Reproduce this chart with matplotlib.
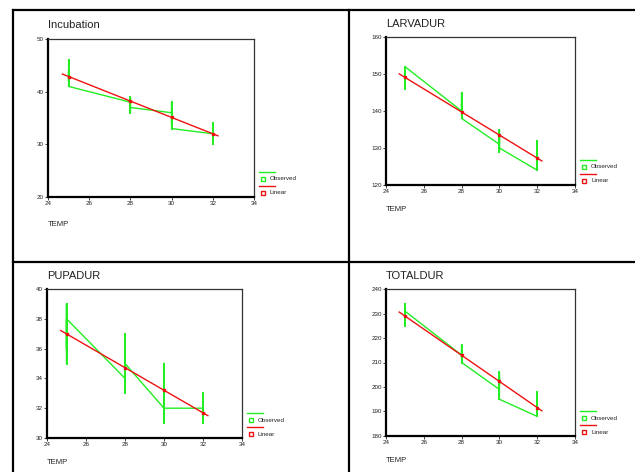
import numpy as np
import matplotlib
matplotlib.use("Agg")
import matplotlib.pyplot as plt
from matplotlib.lines import Line2D

plt.rcParams['font.family'] = ['Liberation Sans', 'DejaVu Sans']

# observed data, in file order (5 replicates per temperature)
temp = [25]*5 + [28]*5 + [30]*5 + [32]*5
incubation = [46, 42, 44, 43, 41,
              38, 36, 39, 38, 37,
              36, 38, 34, 35, 33,
              32, 34, 30, 33, 32]
larvadur = [146, 150, 147, 149, 152,
            140, 145, 141, 142, 138,
            131, 135, 129, 133, 130,
            124, 132, 126, 130, 128]
pupadur = [35, 39, 37, 36, 38,
           34, 37, 33, 35, 35,
           32, 35, 31, 35, 32,
           32, 33, 31, 32, 31]
totaldur = [225, 234, 227, 229, 231,
            213, 217, 212, 214, 210,
            199, 206, 201, 204, 195,
            188, 198, 190, 194, 192]

fit_range = [24.7, 32.25]
x_ticks = [24, 26, 28, 30, 32, 34]

panels = [
    ("Incubation", incubation, (20, 50), [20, 30, 40, 50]),
    ("LARVADUR", larvadur, (120, 160), [120, 130, 140, 150, 160]),
    ("PUPADUR", pupadur, (30, 40), [30, 32, 34, 36, 38, 40]),
    ("TOTALDUR", totaldur, (180, 240), [180, 190, 200, 210, 220, 230, 240]),
]

# axes boxes in pixels: left, top, right, bottom
boxes = [(48, 39, 254, 197), (386, 37, 575, 185), (47, 289, 242, 438), (386, 289, 575, 436)]
title_y = [25, 24, 276, 276]
temp_y = [224, 210, 463, 460]

W, H = 635, 472
GREEN = '#22ee22'
RED = '#ee1111'

fig = plt.figure(figsize=(W/100, H/100), dpi=100)

for i, (name, yv, ylim, yt) in enumerate(panels):
    l, t, r, b = boxes[i]
    ax = fig.add_axes([l/W, 1-b/H, (r-l)/W, (b-t)/H])
    x = np.array(temp, dtype=float)
    y = np.array(yv, dtype=float)

    # observed, connected in order
    ax.plot(x, y, color=GREEN, lw=1.0, zorder=2)
    for tv in sorted(set(temp)):
        vals = y[x == tv]
        ax.plot([tv, tv], [vals.min(), vals.max()], color=GREEN, lw=1.4, zorder=2)

    # linear fit
    k, c = np.polyfit(x, y, 1)
    fx = np.array(fit_range)
    ax.plot(fx, k*fx + c, color=RED, lw=1.0, zorder=3)
    ux = np.array(sorted(set(temp)), dtype=float)
    ax.plot(ux, k*ux + c, 's', color=RED, ms=2, zorder=4)

    ax.set_xlim(24, 34)
    ax.set_ylim(*ylim)
    ax.set_xticks(x_ticks)
    ax.set_yticks(yt)
    ax.tick_params(labelsize=4.5, length=2, width=0.6, pad=1, colors='#222222')
    for s in ['left', 'bottom']:
        ax.spines[s].set_linewidth(1.6)
    for s in ['top', 'right']:
        ax.spines[s].set_linewidth(0.9)
        ax.spines[s].set_color('#333333')

    fig.text(l/W, 1-title_y[i]/H, name, fontsize=8, va='center', ha='left', color='#222222')
    fig.text(l/W, 1-temp_y[i]/H, "TEMP", fontsize=5.5, va='center', ha='left', color='#222222')

    # legend drawn SPSS style
    def fx_(px):
        return (r + px - l) / (r - l)

    def fy_(px):
        return px / (b - t)

    ax.plot([fx_(5), fx_(21)], [fy_(25), fy_(25)], color=GREEN, lw=1.0,
            transform=ax.transAxes, clip_on=False)
    ax.plot([fx_(9)], [fy_(18)], 's', mfc='none', mec=GREEN, ms=2.6, mew=1.0,
            transform=ax.transAxes, clip_on=False)
    ax.text(fx_(16), fy_(18), "Observed", fontsize=4.5, va='center', ha='left',
            transform=ax.transAxes, color='#222222')
    ax.plot([fx_(5), fx_(21)], [fy_(11), fy_(11)], color=RED, lw=1.0,
            transform=ax.transAxes, clip_on=False)
    ax.plot([fx_(9)], [fy_(4)], 's', mfc='none', mec=RED, ms=2.6, mew=1.0,
            transform=ax.transAxes, clip_on=False)
    ax.text(fx_(16), fy_(4), "Linear", fontsize=4.5, va='center', ha='left',
            transform=ax.transAxes, color='#222222')

# table borders
lw = 1.6
fig.add_artist(Line2D([13/W, 1], [1-10/H, 1-10/H], color='black', lw=lw))
fig.add_artist(Line2D([13/W, 13/W], [0, 1-10/H], color='black', lw=lw))
fig.add_artist(Line2D([349/W, 349/W], [0, 1-10/H], color='black', lw=lw))
fig.add_artist(Line2D([13/W, 1], [1-262/H, 1-262/H], color='black', lw=lw))

fig.savefig("out.png", dpi=100)
